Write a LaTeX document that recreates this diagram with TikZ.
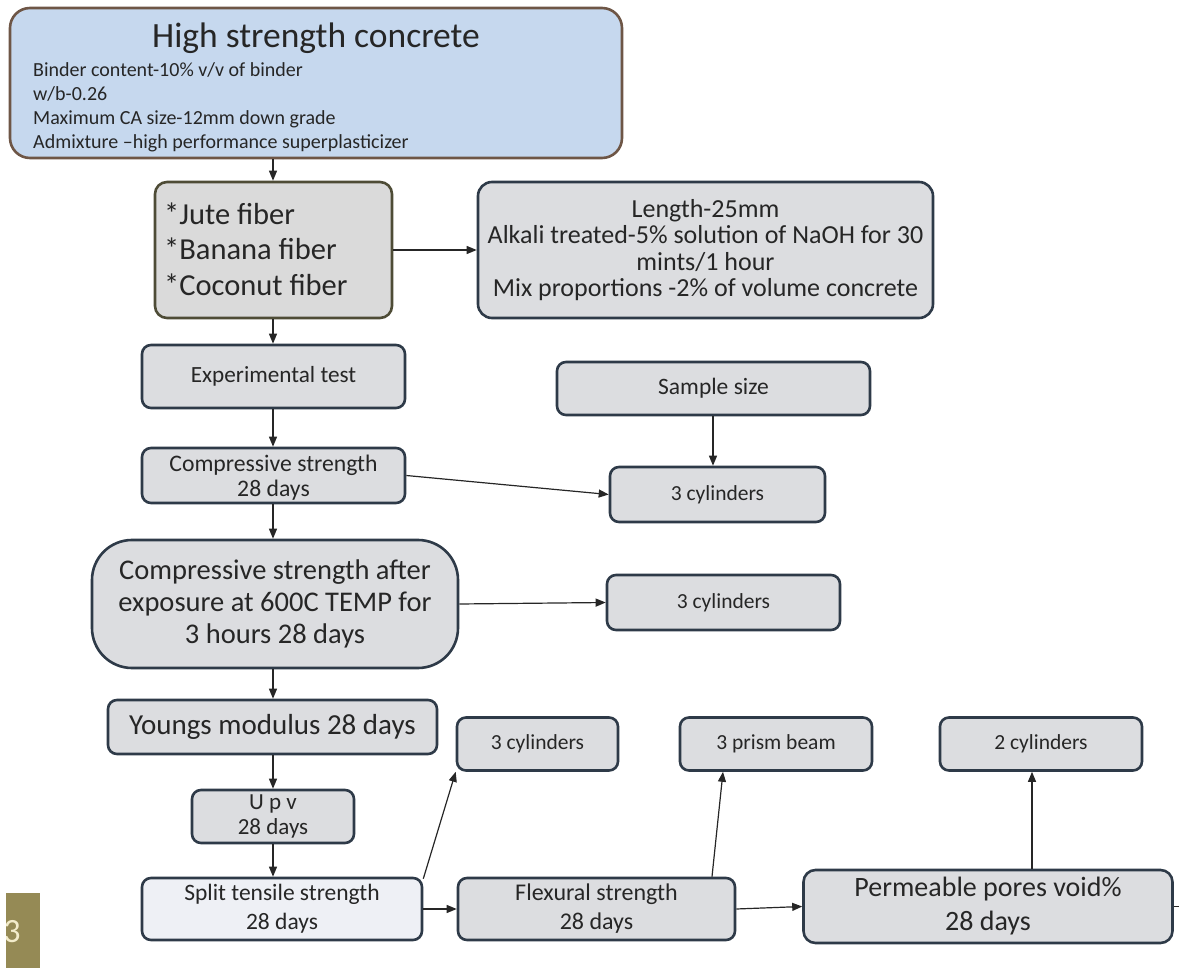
\documentclass[tikz,border=0pt]{standalone}
\usepackage{fontspec}
\setmainfont{Carlito}
\usetikzlibrary{arrows.meta}
\definecolor{topfill}{HTML}{C6D8EE}
\definecolor{topdraw}{HTML}{6E5646}
\definecolor{fibfill}{HTML}{DADADA}
\definecolor{fibdraw}{HTML}{4E4C36}
\definecolor{boxfill}{HTML}{DCDDE0}
\definecolor{boxdraw}{HTML}{2E3A48}
\definecolor{splitfill}{HTML}{EEF0F5}
\definecolor{olive}{HTML}{958A55}
\definecolor{cream}{HTML}{F3ECCB}
\definecolor{txt}{HTML}{262626}
\newcommand{\fs}[2]{\fontsize{#1pt}{#2pt}\selectfont}
\begin{document}
\begin{tikzpicture}[x=1pt,y=-1pt,
  box/.style={draw=boxdraw, line width=2.6pt, fill=boxfill, rounded corners=9pt,
    inner sep=0pt, align=center, text=txt},
  small/.style={font=\fs{21.5}{24}},
  arr/.style={-{Triangle[length=10pt,width=8pt]}, line width=1.2pt, draw=black!85},
  plain/.style={-, line width=1.2pt, draw=black!85}]
\useasboundingbox (0,0) rectangle (1179,968);

% top box
\node[box, fill=topfill, draw=topdraw, rounded corners=20pt,
  minimum width=612pt, minimum height=150pt] (top) at (316,83) {};
\node[text=txt, font=\fs{35.5}{40}, inner sep=0pt] (title) at (316,38) {High strength concrete};
\node[text=txt, font=\fs{20}{24}, align=left, anchor=west, inner sep=0pt] (details) at (33,107)
  {Binder content-10\% v/v of binder\\ w/b-0.26\\ Maximum CA size-12mm down grade\\ Admixture --high performance superplasticizer};

% fibers
\node[box, fill=fibfill, draw=fibdraw, rounded corners=12pt,
  minimum width=237pt, minimum height=136pt] (fiber) at (273.5,250) {};
\node[text=txt, font=\fs{30.5}{35.5}, align=left, anchor=west, inner sep=0pt] (fibtext) at (164,249)
  {*Jute fiber\\ *Banana fiber\\ *Coconut fiber};

\node[box, rounded corners=14pt, minimum width=455pt, minimum height=136pt,
  font=\fs{26}{26.3}] (props) at (705.5,250)
  {Length-25mm\\ Alkali treated-5\% solution of NaOH for 30\\ mints/1 hour\\ Mix proportions -2\% of volume concrete};

\node[box, minimum width=263pt, minimum height=63pt, font=\fs{23.2}{26}] (exp) at (273.5,376.5) {Experimental test};
\node[box, minimum width=313pt, minimum height=53pt, font=\fs{23.5}{26}] (sample) at (713.5,388.5) {Sample size};
\node[box, minimum width=263pt, minimum height=55pt, font=\fs{23.7}{25}, text depth=0pt] (comp) at (273.5,475.5) {Compressive strength\\ 28 days};
\node[box, small, minimum width=215pt, minimum height=55pt] (cylA) at (717.5,494.5) {3 cylinders};

\node[box, rounded corners=40pt, minimum width=366pt, minimum height=128pt, font=\fs{28.5}{32}] (expo) at (275,604)
  {Compressive strength after\\ exposure at 600C TEMP for\\ 3 hours 28 days};
\node[box, small, minimum width=233pt, minimum height=55pt] (cylB) at (723.5,602.5) {3 cylinders};

\node[box, minimum width=329pt, minimum height=54pt, font=\fs{29}{32}] (young) at (272.5,727) {Youngs modulus 28 days};
\node[box, minimum width=162pt, minimum height=53pt, font=\fs{23}{25}] (upv) at (273,816.5) {U p v\\ 28 days};
\node[box, fill=splitfill, minimum width=280pt, minimum height=62pt, font=\fs{23.5}{29}] (split) at (282,909) {Split tensile strength\\ 28 days};
\node[box, minimum width=277pt, minimum height=62pt, font=\fs{24}{29}] (flex) at (596.5,909) {Flexural strength\\ 28 days};
\node[box, rounded corners=12pt, minimum width=369pt, minimum height=73pt, font=\fs{28}{34}] (perm) at (988,906.5) {Permeable pores void\%\\ 28 days};

\node[box, small, minimum width=161pt, minimum height=53pt] (cylC) at (537.5,744) {3 cylinders};
\node[box, small, minimum width=192pt, minimum height=53pt] (prism) at (776,744) {3 prism beam};
\node[box, small, minimum width=202pt, minimum height=53pt] (cylD) at (1041,744) {2 cylinders};

% page number block
\fill[olive] (6,893) rectangle (40,968);
\begin{scope}
\clip (6,893) rectangle (40,968);
\node[text=cream, font=\fs{34}{36}, inner sep=0pt] (pnum) at (12,932) {3};
\end{scope}

% connectors
\draw[arr] (top.south -| 273,0) -- (fiber.north -| 273,0);
\draw[arr] (fiber.east) -- (props.west);
\draw[arr] (fiber.south -| 273,0) -- (exp.north -| 273,0);
\draw[arr] (exp.south -| 273,0) -- (comp.north -| 273,0);
\draw[arr] (sample.south -| 713,0) -- (cylA.north -| 713,0);
\draw[arr] (comp.east) -- (cylA.west);
\draw[arr] (comp.south -| 273,0) -- (expo.north -| 273,0);
\draw[arr] (expo.east) -- (cylB.west);
\draw[arr] (expo.south -| 273,0) -- (young.north -| 273,0);
\draw[arr] (young.south -| 273,0) -- (upv.north -| 273,0);
\draw[arr] (upv.south -| 273,0) -- (split.north -| 273,0);
\draw[arr] (split.north east) ++(0,2) coordinate (s1) (s1) -- (cylC.south west);
\draw[arr] (split.east) -- (flex.west);
\draw[arr] (flex.north -| 712,0) -- (prism.south -| 723,0);
\draw[arr] (flex.east) -- (perm.west);
\draw[arr] (perm.north -| 1032,0) -- (cylD.south -| 1032,0);
\coordinate (offpage) at (1179,906.5);
\draw[plain] (perm.east) -- (offpage);
\end{tikzpicture}
\end{document}
